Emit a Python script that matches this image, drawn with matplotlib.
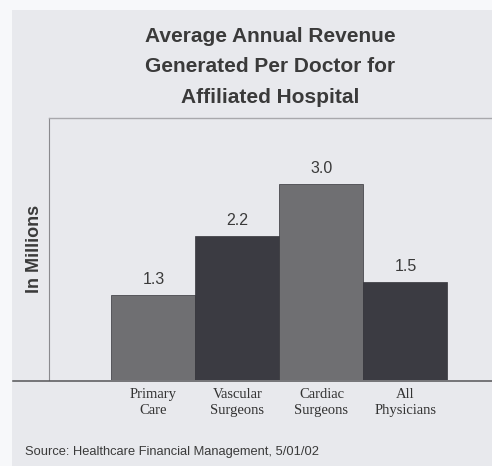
import matplotlib
matplotlib.use("Agg")
import matplotlib.pyplot as plt
from matplotlib.patches import Rectangle
from matplotlib.lines import Line2D

categories = ["Primary\nCare", "Vascular\nSurgeons", "Cardiac\nSurgeons", "All\nPhysicians"]
revenue = [1.3, 2.2, 3.0, 1.5]
bar_colors = ["#6f6f72", "#3b3b42", "#6f6f72", "#3b3b42"]

fig = plt.figure(figsize=(4.92, 4.66), dpi=100)
fig.patch.set_facecolor("#f7f8fa")

# gray panel behind the chart (scanned page)
fig.patches.append(Rectangle((12 / 492, 0), 1, 1 - 10 / 466, transform=fig.transFigure,
                             facecolor="#e8e9ed", edgecolor="none", zorder=-5))

ax = fig.add_axes([49 / 492, 1 - 380 / 466, 1 - 49 / 492, (380 - 118) / 466])
ax.set_zorder(2)
ax.set_facecolor("#e8e9ed")

x = range(len(categories))
bars = ax.bar(x, revenue, width=1.0, color=bar_colors, edgecolor="#34343a", linewidth=0.5)

for xi, v in zip(x, revenue):
    ax.text(xi, v + 0.12, f"{v:.1f}", ha="center", va="bottom",
            fontsize=11.5, family="Liberation Sans", color="#3a3a3a")

ax.set_xlim(-1.244, 4.03)
ax.set_ylim(0, 4.0)
ax.set_yticks([])
ax.set_xticks(list(x))
ax.set_xticklabels(categories, family="Liberation Serif", fontsize=10.5,
                   color="#333333", linespacing=1.3)
ax.tick_params(axis="x", length=0, pad=6)

ax.spines["right"].set_visible(False)
ax.spines["bottom"].set_visible(False)
ax.spines["top"].set_color("#a8a8ac")
ax.spines["top"].set_linewidth(1.0)
ax.spines["left"].set_color("#8a8a8e")
ax.spines["left"].set_linewidth(0.8)

ax.set_ylabel("In Millions", family="Liberation Sans", fontweight="bold",
              fontsize=13, color="#3a3a3a", labelpad=4)

# baseline running past the left spine
fig.lines.append(Line2D([13 / 492, 1], [1 - 381 / 466, 1 - 381 / 466],
                        transform=fig.transFigure, color="#555558", linewidth=1.1, zorder=5))

fig.text(270 / 492, 1 - 67 / 466,
         "Average Annual Revenue\nGenerated Per Doctor for\nAffiliated Hospital",
         ha="center", va="center", family="Liberation Sans", fontweight="bold",
         fontsize=15, color="#3a3a3a", linespacing=1.75)

fig.text(25 / 492, 1 - 452 / 466, "Source: Healthcare Financial Management, 5/01/02",
         ha="left", va="center", family="Liberation Sans", fontsize=9.3, color="#3a3a3a")

fig.savefig("out.png", dpi=100, facecolor=fig.get_facecolor())
